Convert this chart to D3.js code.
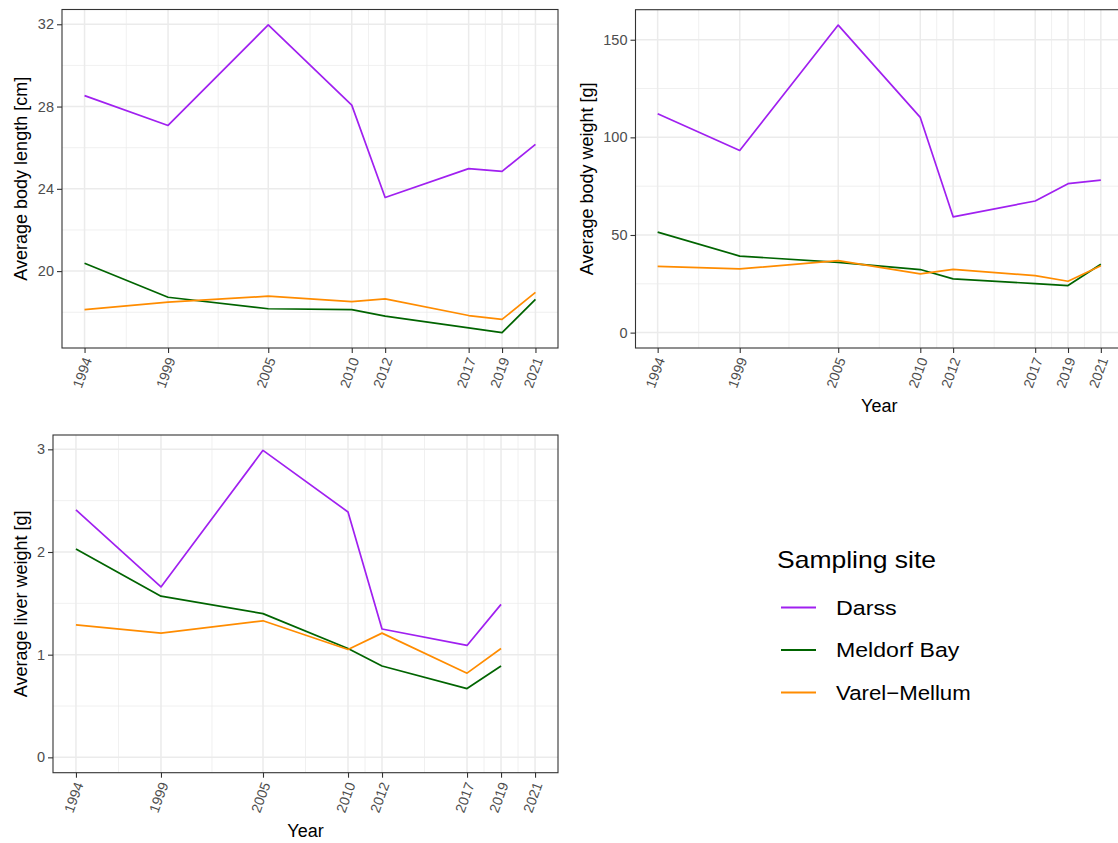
<!DOCTYPE html>
<html>
<head>
<meta charset="utf-8">
<script src="https://cdn.jsdelivr.net/npm/d3@7"></script>
<style>
  html, body { margin: 0; padding: 0; background: #fff; }
  svg { display: block; font-family: "Liberation Sans", Arial, sans-serif; }
</style>
</head>
<body>
<svg id="chart" width="1118" height="843"></svg>
<script>
// ---------------- data ----------------
const years = [1994, 1999, 2005, 2010, 2012, 2017, 2019, 2021];
const liverYears = [1994, 1999, 2005, 2010, 2012, 2017, 2019];
const sites = ["Darss", "Meldorf Bay", "Varel\u2212Mellum"];

const lengthDarss   = [28.53, 27.08, 31.97, 28.07, 23.58, 24.98, 24.85, 26.16];
const lengthMeldorf = [20.38, 18.73, 18.17, 18.13, 17.81, 17.24, 17.01, 18.63];
const lengthVarel   = [18.13, 18.49, 18.78, 18.52, 18.65, 17.84, 17.65, 18.97];

const weightDarss   = [112.1, 93.3, 157.5, 110.2, 59.3, 67.4, 76.3, 78.1];
const weightMeldorf = [51.5, 39.2, 36.0, 32.3, 27.5, 25.1, 24.1, 35.0];
const weightVarel   = [33.9, 32.6, 36.9, 30.1, 32.4, 29.2, 26.3, 34.3];

const liverDarss   = [2.41, 1.66, 2.99, 2.39, 1.25, 1.09, 1.49];
const liverMeldorf = [2.03, 1.57, 1.40, 1.06, 0.89, 0.67, 0.89];
const liverVarel   = [1.29, 1.21, 1.33, 1.05, 1.21, 0.82, 1.06];

const xTickLabels = years;
const lengthTicks = [20, 24, 28, 32];
const weightTicks = [0, 50, 100, 150];
const liverTicks  = [0, 1, 2, 3];

const siteColors = ["#A020F0", "#006400", "#FF8C00"];

// ---------------- drawing ----------------
const svg = d3.select("#chart");

function midpoints(arr) {
  const out = [];
  for (let i = 0; i < arr.length - 1; i++) out.push((arr[i] + arr[i + 1]) / 2);
  return out;
}
function minorY(ticks, domain) {
  const step = ticks[1] - ticks[0];
  const ext = [ticks[0] - step, ...ticks, ticks[ticks.length - 1] + step];
  return midpoints(ext).filter(v => v >= domain[0] && v <= domain[1]);
}

function drawPanel(cfg) {
  const g = svg.append("g");
  const xr = 2021 - 1994;
  const x = d3.scaleLinear()
    .domain([1994 - 0.05 * xr, 2021 + 0.05 * xr])
    .range([cfg.left, cfg.right]);

  const allVals = cfg.series.flatMap(s => s.values).concat(cfg.includeZero ? [0] : []);
  const [mn, mx] = d3.extent(allVals);
  const yr = mx - mn;
  const yDomain = [mn - 0.05 * yr, mx + 0.05 * yr];
  const y = d3.scaleLinear().domain(yDomain).range([cfg.bottom, cfg.top]);

  // minor grid
  const xMinor = midpoints(xTickLabels);
  g.selectAll(".xminor").data(xMinor).join("line")
    .attr("x1", d => x(d)).attr("x2", d => x(d))
    .attr("y1", cfg.top).attr("y2", cfg.bottom)
    .attr("stroke", "#EBEBEB").attr("stroke-width", 0.75);
  g.selectAll(".yminor").data(minorY(cfg.yTicks, yDomain)).join("line")
    .attr("x1", cfg.left).attr("x2", cfg.right)
    .attr("y1", d => y(d)).attr("y2", d => y(d))
    .attr("stroke", "#EBEBEB").attr("stroke-width", 0.75);
  // major grid
  g.selectAll(".xmajor").data(xTickLabels).join("line")
    .attr("x1", d => x(d)).attr("x2", d => x(d))
    .attr("y1", cfg.top).attr("y2", cfg.bottom)
    .attr("stroke", "#EBEBEB").attr("stroke-width", 1.5);
  g.selectAll(".ymajor").data(cfg.yTicks).join("line")
    .attr("x1", cfg.left).attr("x2", cfg.right)
    .attr("y1", d => y(d)).attr("y2", d => y(d))
    .attr("stroke", "#EBEBEB").attr("stroke-width", 1.5);

  // lines
  const line = d3.line().x(d => x(d[0])).y(d => y(d[1]));
  cfg.series.forEach((s, i) => {
    g.append("path")
      .datum(s.years.map((yy, k) => [yy, s.values[k]]))
      .attr("d", line)
      .attr("fill", "none")
      .attr("stroke", siteColors[i])
      .attr("stroke-width", 1.7)
      .attr("stroke-linejoin", "round");
  });

  // border
  g.append("rect")
    .attr("x", cfg.left).attr("y", cfg.top)
    .attr("width", cfg.right - cfg.left).attr("height", cfg.bottom - cfg.top)
    .attr("fill", "none").attr("stroke", "#333333").attr("stroke-width", 1.1);

  // y axis
  const ya = g.append("g")
    .attr("transform", `translate(${cfg.left},0)`)
    .call(d3.axisLeft(y).tickValues(cfg.yTicks).tickSize(5).tickPadding(3).tickFormat(d3.format("d")));
  ya.attr("font-size", null).attr("font-family", null);
  ya.select(".domain").remove();
  ya.selectAll("line").attr("stroke", "#333333").attr("stroke-width", 1.1);
  ya.selectAll("text").attr("fill", "#4D4D4D").style("font-size", "14.5px")
    .style("font-family", "'Liberation Sans', Arial, sans-serif");

  // x axis
  const xa = g.append("g")
    .attr("transform", `translate(0,${cfg.bottom})`)
    .call(d3.axisBottom(x).tickValues(xTickLabels).tickSize(5).tickFormat(d3.format("d")));
  xa.attr("font-size", null).attr("font-family", null);
  xa.select(".domain").remove();
  xa.selectAll("line").attr("stroke", "#333333").attr("stroke-width", 1.1);
  xa.selectAll("text")
    .attr("fill", "#4D4D4D").style("font-size", "14px")
    .style("font-family", "'Liberation Sans', Arial, sans-serif")
    .attr("x", 0).attr("y", 0).attr("dy", "0.35em")
    .attr("transform", "translate(2.5,10) rotate(-70)")
    .style("text-anchor", "end");

  // y title
  g.append("text")
    .attr("transform", `translate(${cfg.yTitleX},${(cfg.top + cfg.bottom) / 2}) rotate(-90)`)
    .attr("text-anchor", "middle")
    .style("font-size", "18px")
    .attr("fill", "#000")
    .text(cfg.yTitle);

  if (cfg.xTitleY) {
    g.append("text")
      .attr("x", (cfg.left + cfg.right) / 2)
      .attr("y", cfg.xTitleY)
      .attr("text-anchor", "middle")
      .style("font-size", "18px")
      .attr("fill", "#000")
      .text("Year");
  }
}

drawPanel({
  left: 62, right: 558, top: 9.5, bottom: 348,
  includeZero: false, yTicks: lengthTicks,
  yTitle: "Average body length [cm]", yTitleX: 27, xTitleY: null,
  series: [
    { years: years, values: lengthDarss },
    { years: years, values: lengthMeldorf },
    { years: years, values: lengthVarel }
  ]
});

drawPanel({
  left: 635.5, right: 1123, top: 9.7, bottom: 348,
  includeZero: true, yTicks: weightTicks,
  yTitle: "Average body weight [g]", yTitleX: 593, xTitleY: 412,
  series: [
    { years: years, values: weightDarss },
    { years: years, values: weightMeldorf },
    { years: years, values: weightVarel }
  ]
});

drawPanel({
  left: 53, right: 558, top: 435, bottom: 772.7,
  includeZero: true, yTicks: liverTicks,
  yTitle: "Average liver weight [g]", yTitleX: 27, xTitleY: 837,
  series: [
    { years: liverYears, values: liverDarss },
    { years: liverYears, values: liverMeldorf },
    { years: liverYears, values: liverVarel }
  ]
});

// ---------------- legend ----------------
const leg = svg.append("g");
leg.append("text")
  .attr("x", 777).attr("y", 568)
  .style("font-size", "24px").attr("fill", "#000")
  .attr("textLength", 159).attr("lengthAdjust", "spacingAndGlyphs")
  .text("Sampling site");
const legWidths = [60.7, 123.3, 134.7];
sites.forEach((s, i) => {
  const yy = 607.5 + i * 42.5;
  leg.append("line")
    .attr("x1", 781).attr("x2", 816).attr("y1", yy).attr("y2", yy)
    .attr("stroke", siteColors[i]).attr("stroke-width", 2);
  leg.append("text")
    .attr("x", 836).attr("y", yy + 7.2)
    .style("font-size", "20.5px").attr("fill", "#000")
    .attr("textLength", legWidths[i]).attr("lengthAdjust", "spacingAndGlyphs")
    .text(s);
});
</script>
</body>
</html>
